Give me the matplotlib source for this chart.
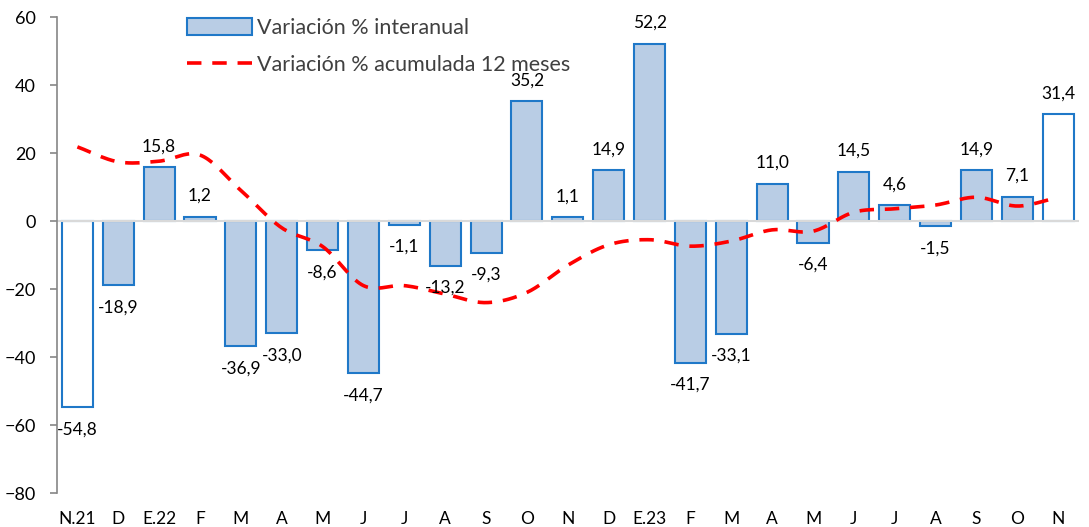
import numpy as np
import matplotlib
matplotlib.use('Agg')
import matplotlib.pyplot as plt
from matplotlib.patches import Patch
from matplotlib.lines import Line2D

plt.rcParams['font.family'] = ['Lato', 'DejaVu Sans']

meses = ['N.21', 'D', 'E.22', 'F', 'M', 'A', 'M', 'J', 'J', 'A', 'S', 'O', 'N',
         'D', 'E.23', 'F', 'M', 'A', 'M', 'J', 'J', 'A', 'S', 'O', 'N']
interanual = [-54.8, -18.9, 15.8, 1.2, -36.9, -33.0, -8.6, -44.7, -1.1, -13.2, -9.3, 35.2, 1.1,
              14.9, 52.2, -41.7, -33.1, 11.0, -6.4, 14.5, 4.6, -1.5, 14.9, 7.1, 31.4]
acumulada = [21.8, 17.4, 17.6, 19.4, 9.0, -2.0, -7.5, -19.0, -19.0, -21.5, -24.0, -21.0, -13.0,
             -7.0, -5.5, -7.4, -5.9, -2.6, -3.0, 2.6, 3.6, 4.7, 7.0, 4.4, 7.0]
# barras sin relleno (mismo mes del año)
huecas = [0, 24]

AZUL = '#1f78c8'
RELLENO = '#b9cde5'


def catmull_rom(x, y, n=20):
    # curva suavizada tipo Excel para dibujar la linea
    x = np.asarray(x, float)
    y = np.asarray(y, float)
    px = np.concatenate([[2 * x[0] - x[1]], x, [2 * x[-1] - x[-2]]])
    py = np.concatenate([[2 * y[0] - y[1]], y, [2 * y[-1] - y[-2]]])
    xs, ys = [], []
    t = np.linspace(0, 1, n, endpoint=False)
    for i in range(1, len(px) - 2):
        c1x = px[i] + (px[i + 1] - px[i - 1]) / 6
        c1y = py[i] + (py[i + 1] - py[i - 1]) / 6
        c2x = px[i + 1] - (px[i + 2] - px[i]) / 6
        c2y = py[i + 1] - (py[i + 2] - py[i]) / 6
        b0, b1, b2, b3 = (1 - t) ** 3, 3 * t * (1 - t) ** 2, 3 * t ** 2 * (1 - t), t ** 3
        xs.append(b0 * px[i] + b1 * c1x + b2 * c2x + b3 * px[i + 1])
        ys.append(b0 * py[i] + b1 * c1y + b2 * c2y + b3 * py[i + 1])
    xs.append([x[-1]])
    ys.append([y[-1]])
    return np.concatenate(xs), np.concatenate(ys)


fig = plt.figure(figsize=(10.89, 5.27), dpi=100)
ax = fig.add_axes([0.0523, 0.0645, 0.9382, 0.9032])

x = np.arange(len(meses))
colores = ['white' if i in huecas else RELLENO for i in x]
ax.bar(x, interanual, width=0.76, color=colores, edgecolor=AZUL,
       linewidth=1.5, zorder=2)

ax.axhline(0, color='#d9d9d9', linewidth=1.5, zorder=2.5)

lx, ly = catmull_rom(x, acumulada)
ax.plot(lx, ly, color='#ff0000', linewidth=2.6, dashes=(4, 3), zorder=3)

for xi, v in zip(x, interanual):
    off = 15 if v >= 0 else -16
    ax.annotate(f'{v:.1f}'.replace('.', ','), (xi, v), xytext=(0, off),
                textcoords='offset points', ha='center', va='center',
                fontsize=12.5, color='black', zorder=4)

ax.set_xlim(-0.5, len(meses) - 0.5)
ax.set_ylim(-80, 60)
ax.set_yticks(range(-80, 61, 20))
ax.set_xticks(x)
ax.set_xticklabels(meses)

for s in ['top', 'right', 'bottom']:
    ax.spines[s].set_visible(False)
ax.spines['left'].set_color('#868686')
ax.spines['left'].set_linewidth(1.2)
ax.tick_params(axis='y', length=5, width=1.2, color='#868686', pad=10,
               labelsize=13, labelcolor='black')
ax.tick_params(axis='x', length=0, pad=13, labelsize=12.5, labelcolor='black')

handles = [Patch(facecolor=RELLENO, edgecolor=AZUL, linewidth=1.5),
           Line2D([], [], color='#ff0000', linewidth=2.6, dashes=(4, 3))]
etiquetas = ['Variación % interanual', 'Variación % acumulada 12 meses']
leg = fig.legend(handles, etiquetas, loc='upper left',
                 bbox_to_anchor=(187 / 1089, 1 - 18 / 527), frameon=False,
                 fontsize=15.5, handlelength=3.0, handleheight=0.8,
                 handletextpad=0.25, labelspacing=0.8,
                 borderpad=0, borderaxespad=0)
for t in leg.get_texts():
    t.set_color('#404040')

fig.savefig('out.png', dpi=100)
